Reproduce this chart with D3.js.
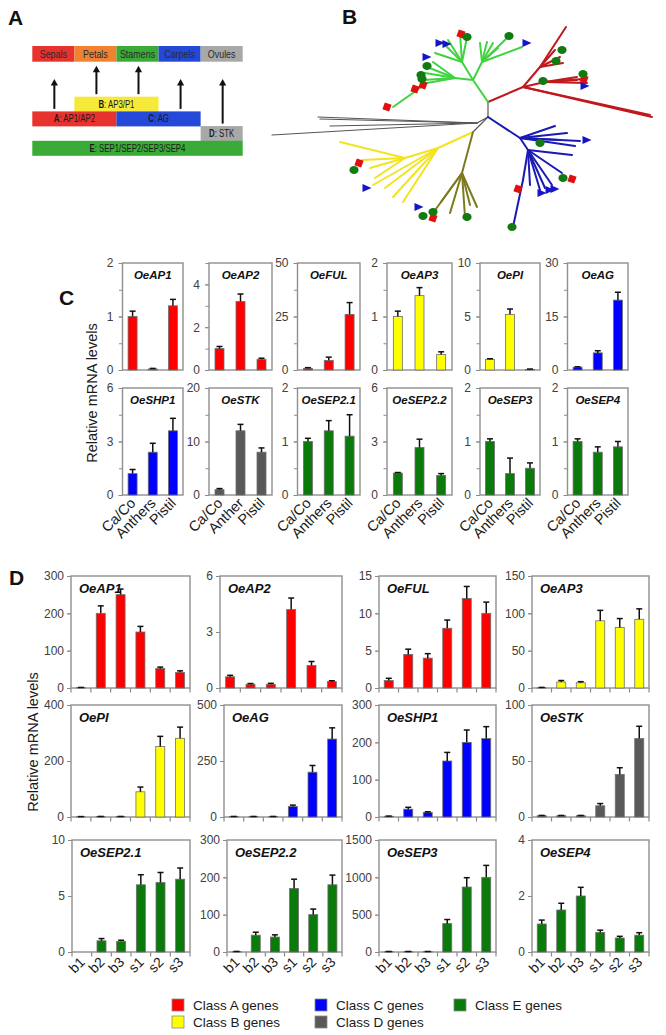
<!DOCTYPE html>
<html><head><meta charset="utf-8">
<script src="https://cdn.jsdelivr.net/npm/d3@7"></script>
<style>
body{margin:0;background:#fff}
svg{display:block}
text{font-family:"Liberation Sans",Arial,Helvetica,sans-serif}
</style>
</head><body>
<svg id="chart" width="666" height="1035"></svg>
<script>
// ======================= DATA =======================
// Panel A: ABCDE model
const organs = ["Sepals","Petals","Stamens","Carpels","Ovules"];
const organColors = ["#e8322e","#f08232","#3aab37","#2448d8","#a8a8a8"];
const functionClasses = ["B","A","C","D","E"];
const functionGenes = ["AP3/P1","AP1/AP2","AG","STK","SEP1/SEP2/SEP3/SEP4"];
const functionStart = [1,0,2,4,0];
const functionEnd = [3,2,4,5,5];
const functionRow = [0,1,1,2,3];
const functionColors = ["#f6e93a","#e8322e","#2448d8","#a8a8a8","#3aab37"];

// Class colours / legend
const classKeys = ["A","B","C","D","E"];
const classColors = ["#ff0000","#ffff00","#0000ff","#595959","#0a7a0a"];
const legendLabels = ["Class A genes","Class B genes","Class C genes","Class D genes","Class E genes"];

// Panel B: tree (branch-length units relative to root) [id, parent, x, y, clade]
const treeNodes = [
 ["R",null,0,0,"k"],["GR","R",0,-15,"k"],["GN","R",-11,6,"k"],["YN","R",-15,15,"k"],
 ["r0","GR",35,-30,"r"],["r1","r0",52,-50,"r"],["r2","r0",57,-35,"r"],
 ["r1a","r1",78,-90,"r"],["r1b","r1",72,-60,"r"],["r1c","r1",75,-54,"r"],["r1d","r1",67,-67,"r"],
 ["r2a","r2",89,-40,"r"],["r2b","r2",89,-37,"r"],["r2c","r2",99,-34,"r"],["r2d","r2",95,-38,"r"],
 ["r0a","r0",164,0,"r"],["r0b","r0",162,-2,"r"],
 ["g0","GR",-15,-37,"g"],["gA","g0",-33,-39,"g"],["gL","gA",-61,-34,"g"],["gLa","gL",-95,-10,"g"],
 ["gAa","gA",-65,-37,"g"],["gAb","gA",-63,-44,"g"],["gAc","gA",-61,-50,"g"],["gAd","gA",-55,-55,"g"],
 ["gB","g0",-26,-55,"g"],["gBa","gB",-53,-64,"g"],["gBb","gB",-46,-75,"g"],["gBc","gB",-40,-77,"g"],["gBd","gB",-28,-84,"g"],["gBe","gB",-21,-80,"g"],
 ["gC","g0",-6,-55,"g"],["gCa","gC",-8,-74,"g"],["gCb","gC",-1,-75,"g"],["gCc","gC",5,-74,"g"],["gCd","gC",10,-69,"g"],["gCe","gC",20,-80,"g"],["gCf","gC",34,-70,"g"],
 ["k1","GN",-170,0,"k"],["k2","GN",-168,2,"k"],["k3","GN",-158,9,"k"],["k4","GN",-216,18,"k"],
 ["y0","YN",-50,31,"y"],["y1","y0",-83,41,"y"],
 ["y1a","y1",-148,25,"y"],["y1b","y1",-126,43,"y"],["y1c","y1",-118,51,"y"],["y1d","y1",-113,61,"y"],
 ["y0a","y0",-115,68,"y"],["y0b","y0",-103,71,"y"],["y0c","y0",-95,80,"y"],["y0d","y0",-85,85,"y"],
 ["o0","YN",-26,56,"o"],["o0a","o0",-55,96,"o"],["o0b","o0",-47,85,"o"],["o0c","o0",-38,96,"o"],["o0d","o0",-23,100,"o"],["o0e","o0",-11,90,"o"],["o0f","o0",-18,88,"o"],
 ["b0","R",32,21,"b"],["b0a","b0",67,9,"b"],["b0b","b0",79,16,"b"],["b0c","b0",92,24,"b"],["b0d","b0",87,29,"b"],["b0e","b0",72,23,"b"],
 ["b1","b0",40,33,"b"],["b1a","b1",84,38,"b"],["b1b","b1",74,56,"b"],["b1c","b1",64,68,"b"],["b1d","b1",57,71,"b"],["b1e","b1",52,73,"b"],["b1f","b1",42,68,"b"],
 ["b2","b1",35,63,"b"],["b2a","b2",25,110,"b"]
];
const cladeColors = {k:"#555555",r:"#c0181c",g:"#3fd43f",y:"#f2e41e",o:"#7d7a1e",b:"#1a1ab4"};
const treeSquares = [[-27,-83],[96,-38],[-73,-28],[-65,-32],[-101,-10],[-129,46],[-55,101],[84,62],[30,72]];
const treeCircles = [[-21,-80],[21,-81],[74,-67],[68,-56],[95,-43],[55,-36],[-61,-51],[-67,-42],[-66,-38],[-134,53],[-65,99],[-55,95],[-21,100],[52,26],[75,61],[24,110]];
const treeTriangles = [[-48,-74],[-41,-73],[39,-74],[-61,-60],[97,-31],[99,23],[54,76],[62,73],[67,72],[-121,71],[-69,90]];

// Panel C: tissues
const cGenes = ["OeAP1","OeAP2","OeFUL","OeAP3","OePI","OeAG","OeSHP1","OeSTK","OeSEP2.1","OeSEP2.2","OeSEP3","OeSEP4"];
const cClass = ["A","A","A","B","B","C","C","D","E","E","E","E"];
const cTissues = ["Ca/Co","Anthers","Pistil"];
const cTissuesSTK = ["Ca/Co","Anther","Pistil"];
const cMeans = [
 [1.0,0.02,1.2],[1.0,3.2,0.5],[0.8,4.5,26],
 [1.0,1.39,0.29],[1.0,5.2,0.06],[0.8,4.8,19.6],
 [1.2,2.4,3.6],[1.0,12,8],[1.0,1.2,1.1],
 [1.23,2.66,1.1],[1.0,0.4,0.5],[1.0,0.8,0.9]];
const cErrors = [
 [0.1,0.01,0.12],[0.1,0.35,0.05],[0.3,1.5,5.5],
 [0.1,0.15,0.05],[0.05,0.5,0.03],[0.1,0.6,2.2],
 [0.23,0.5,0.7],[0.2,1.2,0.8],[0.06,0.19,0.4],
 [0.03,0.47,0.1],[0.05,0.29,0.1],[0.05,0.1,0.1]];
const cYMax = [2,5,50,2,10,30,6,20,2,6,2,2];
const cYTicks = [[0,1,2],[0,2,4],[0,25,50],[0,1,2],[0,5,10],[0,15,30],[0,3,6],[0,10,20],[0,1,2],[0,3,6],[0,1,2],[0,1,2]];

// Panel D: developmental stages
const dGenes = ["OeAP1","OeAP2","OeFUL","OeAP3","OePI","OeAG","OeSHP1","OeSTK","OeSEP2.1","OeSEP2.2","OeSEP3","OeSEP4"];
const dClass = ["A","A","A","B","B","C","C","D","E","E","E","E"];
const dStages = ["b1","b2","b3","s1","s2","s3"];
const dMeans = [
 [1,200,250,150,52,42],
 [0.6,0.2,0.2,4.2,1.2,0.34],
 [1,4.5,4,8,12,10],
 [0.5,8,7,90,81,92],
 [1,1.5,1.5,90,252,281],
 [2,2,2,47,200,348],
 [2,21,12,150,200,210],
 [1.2,1.2,1.2,10,38,70],
 [0,1,0.95,6,6.2,6.5],
 [1,45,40,170,100,180],
 [5,5,5,380,870,1000],
 [1,1.5,2,0.7,0.5,0.6]];
const dErrors = [
 [0.5,20,15,15,4,4],
 [0.08,0.04,0.05,0.62,0.22,0.05],
 [0.3,0.7,0.6,1.1,1.6,1.5],
 [0.3,2,1.5,14,12,14],
 [0.5,0.5,0.5,17,36,40],
 [0.5,0.5,0.5,6,30,50],
 [0.5,5,2,23,33,32],
 [0.2,0.2,0.2,2,6,11],
 [0,0.2,0.1,0.9,0.9,1.0],
 [0.5,8,6,25,15,26],
 [2,2,2,55,125,160],
 [0.14,0.24,0.31,0.08,0.06,0.09]];
const dYMax = [300,6,15,150,400,500,300,100,10,300,1500,4];
const dYTicks = [[0,100,200,300],[0,3,6],[0,5,10,15],[0,50,100,150],[0,200,400],[0,250,500],[0,100,200,300],[0,50,100],[0,5,10],[0,100,200,300],[0,500,1000,1500],[0,2,4]];

// ======================= LAYOUT =======================
const svg = d3.select("#chart");
const colorOf = k => classColors[classKeys.indexOf(k)];

function panelLetter(t,x,y){
  svg.append("text").attr("x",x).attr("y",y).attr("font-size",21).attr("font-weight","bold").attr("fill","#111").text(t);
}
panelLetter("A",8,25); panelLetter("B",342,24); panelLetter("C",59,305); panelLetter("D",9,585);

function squeeze(sel, ratio){
  sel.each(function(){ const L=this.getComputedTextLength(); d3.select(this).attr("textLength",L*ratio).attr("lengthAdjust","spacingAndGlyphs"); });
}

// ---------- Panel A ----------
(function(){
  const g = svg.append("g");
  const ox = d3.scaleLinear().domain([0,5]).range([32.3,242.7]);
  const rowY = d3.scaleLinear().domain([0,4]).range([96.7,155.5]);
  g.selectAll("rect.org").data(organs).join("rect")
    .attr("x",(d,i)=>ox(i)).attr("y",46).attr("width",ox(1)-ox(0)).attr("height",15.7)
    .attr("fill",(d,i)=>organColors[i]);
  const ot = g.selectAll("text.org").data(organs).join("text")
    .attr("x",(d,i)=>ox(i+0.5)).attr("y",57.5).attr("text-anchor","middle")
    .attr("font-size",10.5).attr("fill","#2a2a2a").text(d=>d);
  squeeze(ot,0.85);
  // function bars
  functionClasses.forEach((c,i)=>{
    const y0=rowY(functionRow[i]), y1=rowY(functionRow[i]+1);
    g.append("rect").attr("x",ox(functionStart[i])).attr("y",y0)
      .attr("width",ox(functionEnd[i])-ox(functionStart[i])).attr("height",y1-y0+0.3)
      .attr("fill",functionColors[i]);
    const t = g.append("text").attr("x",(ox(functionStart[i])+ox(functionEnd[i]))/2)
      .attr("y",(y0+y1)/2+3.5).attr("text-anchor","middle").attr("font-size",10).attr("fill","#1a1a1a");
    t.append("tspan").attr("font-weight","bold").text(c);
    t.append("tspan").text(": "+functionGenes[i]);
    squeeze(t,0.78);
  });
  // arrows: from top of highest function bar over each organ
  organs.forEach((o,i)=>{
    let top = 999;
    functionClasses.forEach((c,j)=>{ if(functionStart[j]<=i && functionEnd[j]>i) top=Math.min(top,rowY(functionRow[j])); });
    const tail = top-2.5, tip = Math.min(79, top-31);
    const cx = ox(i+0.5)+1;
    g.append("line").attr("x1",cx).attr("x2",cx).attr("y1",tail).attr("y2",tip+5).attr("stroke","#111").attr("stroke-width",2);
    g.append("path").attr("d",`M${cx-3.6},${tip+6.5}L${cx},${tip}L${cx+3.6},${tip+6.5}Z`).attr("fill","#111");
  });
})();

// ---------- Panel B ----------
(function(){
  const g = svg.append("g");
  const tx = d3.scaleLinear().domain([0,100]).range([488,588]);
  const ty = d3.scaleLinear().domain([0,100]).range([117,217]);
  const byId = new Map(treeNodes.map(n=>[n[0],n]));
  g.selectAll("line.br").data(treeNodes.filter(n=>n[1])).join("line")
    .attr("x1",n=>tx(byId.get(n[1])[2])).attr("y1",n=>ty(byId.get(n[1])[3]))
    .attr("x2",n=>tx(n[2])).attr("y2",n=>ty(n[3]))
    .attr("stroke",n=>cladeColors[n[4]]).attr("stroke-width",n=>n[4]==="k"?1.2:2)
    .attr("stroke-linecap","round");
  g.selectAll("rect.sq").data(treeSquares).join("rect")
    .attr("x",-3.6).attr("y",-3.6).attr("width",7.2).attr("height",7.2)
    .attr("transform",d=>`translate(${tx(d[0])},${ty(d[1])}) rotate(20)`)
    .attr("fill","#e01010");
  g.selectAll("ellipse.ci").data(treeCircles).join("ellipse")
    .attr("cx",d=>tx(d[0])).attr("cy",d=>ty(d[1])).attr("rx",4.6).attr("ry",4)
    .attr("fill","#117a11");
  g.selectAll("path.tr").data(treeTriangles).join("path")
    .attr("d",d=>{const x=tx(d[0]),y=ty(d[1]);return `M${x-4.5},${y-4}L${x+4.5},${y}L${x-4.5},${y+4}Z`;})
    .attr("fill","#1414c8");
})();

// ---------- Generic bar chart ----------
function barChart(o){
  const g = svg.append("g");
  const x = d3.scaleBand().domain(d3.range(o.cats.length)).range([o.x0,o.x1]);
  const y = d3.scaleLinear().domain([0,o.max]).range([o.yz,o.yt]);
  // minor ticks
  const step = o.ticks[1]-o.ticks[0];
  const minor = d3.range(0,o.max+1e-9,step/o.minorDiv);
  g.append("g").attr("transform",`translate(${o.x0},0)`)
    .call(d3.axisLeft(y).tickValues(minor).tickSize(3.5).tickFormat(""))
    .call(a=>{a.select(".domain").remove();a.selectAll("line").attr("stroke","#8a8a8a");});
  g.append("g").attr("transform",`translate(${o.x0},0)`)
    .call(d3.axisLeft(y).tickValues(o.ticks).tickSize(4).tickPadding(o.pad).tickFormat(d=>d3.format("d")(d)))
    .call(a=>{a.select(".domain").remove();a.selectAll("line").attr("stroke","#8a8a8a");
      a.selectAll("text").attr("font-size",12).attr("fill","#404040").attr("font-family",'"Liberation Sans",Arial,sans-serif');});
  if(o.xTicks){
    g.append("g").selectAll("line").data(d3.range(o.cats.length+1)).join("line")
      .attr("x1",i=>i<o.cats.length?x(i):o.x1).attr("x2",i=>i<o.cats.length?x(i):o.x1)
      .attr("y1",o.yz).attr("y2",o.yz+4.5).attr("stroke","#8a8a8a").attr("stroke-width",1.2);
  }
  // frame
  g.append("rect").attr("x",o.x0).attr("y",o.yt).attr("width",o.x1-o.x0).attr("height",o.yz-o.yt)
    .attr("fill","none").attr("stroke","#8f8f8f").attr("stroke-width",1.4);
  const bw = o.barW, off = (x.bandwidth()-bw)/2;
  // bars
  g.selectAll("rect.bar").data(o.means).join("rect")
    .attr("x",(d,i)=>x(i)+off).attr("width",bw)
    .attr("y",d=>y(d)).attr("height",d=>Math.max(0,o.yz-y(d)))
    .attr("fill",o.color).attr("stroke","#6f6f6f").attr("stroke-width",0.8);
  // error bars
  o.means.forEach((d,i)=>{
    const e=o.errs[i]; if(!(e>0)) return;
    const cx=x(i)+x.bandwidth()/2;
    g.append("line").attr("x1",cx).attr("x2",cx).attr("y1",y(d)).attr("y2",y(d+e)).attr("stroke","#111").attr("stroke-width",1.5);
    g.append("line").attr("x1",cx-3).attr("x2",cx+3).attr("y1",y(d+e)).attr("y2",y(d+e)).attr("stroke","#111").attr("stroke-width",1.5);
  });
  // title
  const t = g.append("text").attr("font-size",o.titleSize).attr("font-weight","bold").attr("font-style","italic").attr("fill","#111").text(o.title);
  if(o.titleCenter) t.attr("x",(o.x0+o.x1)/2).attr("y",o.yt+16).attr("text-anchor","middle");
  else t.attr("x",o.x0+8).attr("y",o.yt+17);
  // category labels
  if(o.showX){
    o.cats.forEach((c,i)=>{
      const cx=x(i)+x.bandwidth()/2+o.lx, cy=o.yz+o.ly;
      g.append("text").attr("x",cx).attr("y",cy).attr("text-anchor","end")
        .attr("transform",`rotate(-45,${cx},${cy})`).attr("font-size",o.lsize).attr("fill","#1a1a1a").text(c);
    });
  }
}

// ---------- Panel C ----------
const cColX = [[122.5,183],[209,272],[297.5,360],[387,452],[480,540],[567.5,628]];
const cRowY = [[263,370],[388,495]];
cGenes.forEach((gname,i)=>{
  const r=Math.floor(i/6), c=i%6;
  barChart({x0:cColX[c][0],x1:cColX[c][1],yt:cRowY[r][0],yz:cRowY[r][1],max:cYMax[i],ticks:cYTicks[i],minorDiv:2,pad:5,
    means:cMeans[i],errs:cErrors[i],color:colorOf(cClass[i]),title:gname,titleCenter:true,titleSize:11.5,
    cats:gname==="OeSTK"?cTissuesSTK:cTissues,showX:r===1,xTicks:false,barW:9,lx:4,ly:9,lsize:14.5});
});
svg.append("text").attr("transform","translate(97,393) rotate(-90)").attr("text-anchor","middle")
  .attr("font-size",14.5).attr("fill","#1a1a1a").text("Relative mRNA levels");

// ---------- Panel D ----------
const dColRight = [190,342,496,649];
const dColLeft = [[71,220,379,532],[71,224,379,532],[72,227,379,532]];
const dRowY = [[576,688],[705,817],[840,952]];
dGenes.forEach((gname,i)=>{
  const r=Math.floor(i/4), c=i%4;
  barChart({x0:dColLeft[r][c],x1:dColRight[c],yt:dRowY[r][0],yz:dRowY[r][1],max:dYMax[i],ticks:dYTicks[i],minorDiv:1,pad:3,
    means:dMeans[i],errs:dErrors[i],color:colorOf(dClass[i]),title:gname,titleCenter:false,titleSize:13,
    cats:dStages,showX:r===2,xTicks:true,barW:9,lx:4,ly:11,lsize:14});
});
svg.append("text").attr("transform","translate(38,742) rotate(-90)").attr("text-anchor","middle")
  .attr("font-size",14.5).attr("fill","#1a1a1a").text("Relative mRNA levels");

// ---------- Legend ----------
const legX = [172,172,315,315,454], legY=[999,1016,999,1016,999];
classKeys.forEach((k,i)=>{
  svg.append("rect").attr("x",legX[i]).attr("y",legY[i]).attr("width",12).attr("height",12)
    .attr("fill",classColors[i]).attr("stroke","#8a8a8a").attr("stroke-width",0.8);
  svg.append("text").attr("x",legX[i]+21).attr("y",legY[i]+10.5).attr("font-size",13.5).attr("fill","#1a1a1a").text(legendLabels[i]);
});
</script>
</body></html>
